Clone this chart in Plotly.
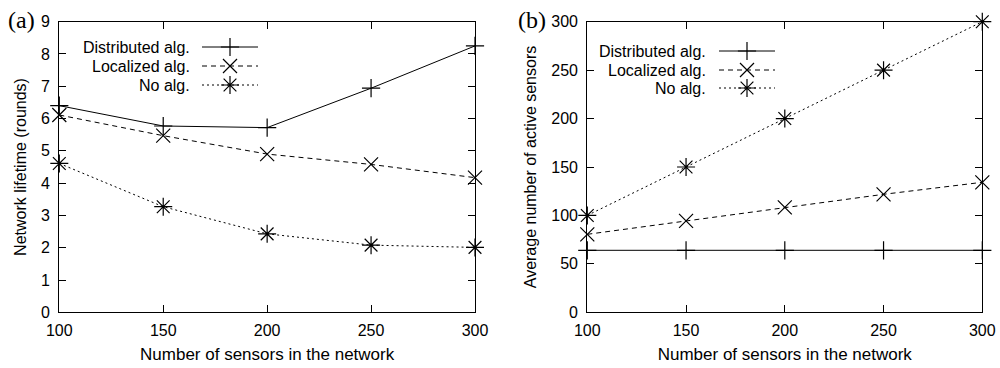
import plotly.graph_objects as go

sensors = [100, 150, 200, 250, 300]
x_ticks = [100, 150, 200, 250, 300]

# (a) Network lifetime (rounds)
life_distributed = [6.4, 5.77, 5.72, 6.94, 8.25]
life_localized = [6.11, 5.47, 4.9, 4.58, 4.17]
life_noalg = [4.61, 3.27, 2.43, 2.08, 2.01]

# (b) Average number of active sensors
active_distributed = [64, 64, 64, 64, 64]
active_localized = [80.5, 94.3, 108.4, 121.8, 134.2]
active_noalg = [100, 150, 200, 250, 300]

series_names = ["Distributed alg.", "Localized alg.", "No alg."]
symbols = ["cross-thin-open", "x-thin-open", "asterisk-open"]
dashes = ["solid", "5px,4px", "2px,3px"]
msizes = [13, 14, 15]

FONT = "Liberation Sans"
W, H = 1000, 368

fig = go.Figure()

def add_series(ys_list, xa, ya):
    for ys, name, sym, dash, ms in zip(ys_list, series_names, symbols, dashes, msizes):
        fig.add_trace(go.Scatter(
            x=sensors, y=ys, mode="lines+markers", name=name, showlegend=False,
            xaxis=xa, yaxis=ya,
            line=dict(color="black", width=1, dash=dash),
            marker=dict(symbol=sym, size=ms, color="black",
                        line=dict(color="black", width=1.2)),
            cliponaxis=False,
        ))

add_series([life_distributed, life_localized, life_noalg], "x", "y")
add_series([active_distributed, active_localized, active_noalg], "x2", "y2")

# Legend samples on a hidden pixel-coordinate axis covering the whole page
legend_specs = [
    (192, 202, 258, [47, 66, 85]),
    (708, 719, 775, [51, 70, 88]),
]
for text_right, x0, x1, ys in legend_specs:
    for yy, name, sym, dash, ms in zip(ys, series_names, symbols, dashes, msizes):
        fig.add_trace(go.Scatter(
            x=[x0, x1], y=[yy, yy], mode="lines", showlegend=False,
            xaxis="x3", yaxis="y3", hoverinfo="skip",
            line=dict(color="black", width=1, dash=dash),
        ))
        fig.add_trace(go.Scatter(
            x=[(x0 + x1) / 2], y=[yy], mode="markers", showlegend=False,
            xaxis="x3", yaxis="y3", hoverinfo="skip",
            marker=dict(symbol=sym, size=ms, color="black",
                        line=dict(color="black", width=1.2)),
        ))
        fig.add_annotation(
            x=text_right, y=yy, xref="x3", yref="y3", text=name,
            showarrow=False, xanchor="right", yanchor="middle",
            font=dict(family=FONT, size=16, color="black"),
        )

ydom = [1 - 312.3 / H, 1 - 21.7 / H]

common_axis = dict(
    showline=True, linecolor="black", linewidth=1.3, mirror="ticks",
    ticks="inside", ticklen=7, tickwidth=1, tickcolor="black",
    showgrid=False, zeroline=False, automargin=False,
    tickfont=dict(family=FONT, size=16, color="black"),
)

fig.update_layout(
    width=W, height=H,
    margin=dict(l=0, r=0, t=0, b=0, autoexpand=False),
    paper_bgcolor="white", plot_bgcolor="rgba(0,0,0,0)",
    font=dict(family=FONT, size=16, color="black"),
    showlegend=False,
    xaxis=dict(domain=[59.3 / W, 475 / W], range=[100, 300], tickvals=x_ticks,
               ticklabelstandoff=3,
               title=dict(text="Number of sensors in the network", standoff=10,
                          font=dict(family=FONT, size=17)),
               anchor="y", **common_axis),
    yaxis=dict(domain=ydom, range=[0, 9], dtick=1, ticklabelstandoff=5,
               title=dict(text="Network lifetime (rounds)", standoff=10,
                          font=dict(family=FONT, size=16)),
               anchor="x", **common_axis),
    xaxis2=dict(domain=[587.3 / W, 982.3 / W], range=[100, 300], tickvals=x_ticks,
                ticklabelstandoff=3,
                title=dict(text="Number of sensors in the network", standoff=10,
                           font=dict(family=FONT, size=17)),
                anchor="y2", **common_axis),
    yaxis2=dict(domain=ydom, range=[0, 300], dtick=50, ticklabelstandoff=5,
                title=dict(text="Average number of active sensors", standoff=10,
                           font=dict(family=FONT, size=16)),
                anchor="x2", **common_axis),
    xaxis3=dict(domain=[0, 1], range=[0, W], visible=False, anchor="y3",
                automargin=False, fixedrange=True),
    yaxis3=dict(domain=[0, 1], range=[H, 0], visible=False, anchor="x3",
                automargin=False, fixedrange=True),
)

fig.add_annotation(x=6 / W, y=1 - 20 / H, xref="paper", yref="paper", text="(a)",
                   showarrow=False, xanchor="left", yanchor="middle",
                   font=dict(family="Liberation Serif", size=24, color="black"))
fig.add_annotation(x=516 / W, y=1 - 20 / H, xref="paper", yref="paper", text="(b)",
                   showarrow=False, xanchor="left", yanchor="middle",
                   font=dict(family="Liberation Serif", size=24, color="black"))

fig.write_html("out.html", config={"displayModeBar": False},
               post_script=["document.body.style.margin='0';"])
